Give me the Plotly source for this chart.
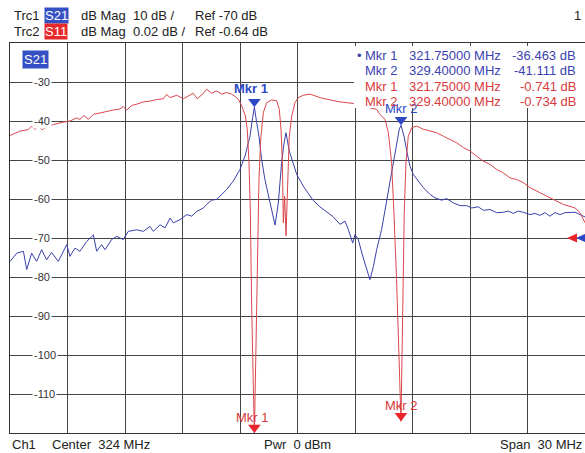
import plotly.graph_objects as go

# ---------------- data ----------------
freq_s21 = [309.00, 309.35, 309.70, 309.87, 310.13, 310.39, 310.65, 310.91, 311.17, 311.52,
            311.96, 312.13, 312.39, 312.65, 313.00, 313.35, 313.52, 313.78, 313.96, 314.30,
            314.57, 314.91, 315.17, 315.61, 315.96, 316.30, 316.48, 316.83, 317.09, 317.35,
            317.52, 317.87, 318.22, 318.48, 318.74, 319.09, 319.26, 319.52, 319.78, 320.04,
            320.30, 320.65, 321.00, 321.26, 321.52, 321.66, 321.75, 321.87, 321.99, 322.13,
            322.30, 322.57, 322.83, 323.00, 323.17, 323.30, 323.40, 323.57, 323.78, 323.96,
            324.30, 324.65, 324.81, 325.17, 325.52, 325.85, 326.22, 326.48, 326.65, 326.88,
            327.00, 327.17, 327.43, 327.61, 327.78, 327.96, 328.13, 328.39, 328.48, 328.65,
            328.83, 329.00, 329.17, 329.31, 329.40, 329.56, 329.70, 329.87, 330.04, 330.30,
            330.57, 330.91, 331.17, 331.52, 331.78, 332.13, 332.48, 332.83, 333.09, 333.43,
            333.70, 334.04, 334.39, 334.74, 335.00, 335.26, 335.52, 335.78, 336.13, 336.39,
            336.65, 336.91, 337.17, 337.43, 337.70, 337.96, 338.22, 338.48, 338.74, 339.00]
s21_db = [-76.0, -73.9, -73.4, -78.1, -73.9, -76.0, -73.0, -75.6, -73.7, -76.0,
          -71.7, -74.7, -72.6, -73.4, -70.9, -69.2, -73.4, -71.7, -73.0, -70.4,
          -69.6, -70.4, -68.3, -67.9, -68.3, -67.0, -68.3, -66.6, -67.4, -64.9,
          -66.1, -65.3, -64.0, -64.4, -63.2, -62.3, -61.4, -60.3, -60.1, -58.8,
          -57.6, -55.4, -52.4, -49.0, -43.9, -39.1, -36.463, -40.4, -43.9, -49.9,
          -55.0, -61.0, -66.7, -61.0, -50.7, -45.6, -43.0, -47.7, -51.0, -53.7,
          -56.7, -59.0, -60.3, -62.0, -63.4, -64.5, -66.5, -65.7, -67.8, -71.3,
          -69.1, -70.4, -75.1, -78.1, -80.7, -77.3, -73.0, -67.8, -65.3, -61.0,
          -55.8, -50.7, -45.6, -42.1, -41.111, -43.9, -47.7, -51.6, -53.7, -55.4,
          -57.1, -58.8, -59.7, -60.3, -59.9, -61.0, -61.7, -61.7, -62.3, -62.0,
          -62.9, -62.7, -63.5, -63.4, -63.1, -63.7, -63.1, -63.4, -64.0, -63.7,
          -64.2, -63.5, -64.4, -63.5, -64.0, -63.5, -63.5, -63.4, -64.0, -64.6]

freq_s11 = [309.00, 309.52, 309.96, 310.13, 310.30, 310.48, 310.65, 310.91, 311.26, 311.78,
            312.13, 312.48, 312.65, 312.86, 313.09, 313.35, 313.70, 314.04, 314.39, 314.74,
            314.91, 315.09, 315.35, 315.61, 315.96, 316.30, 316.65, 317.00, 317.17, 317.35,
            317.70, 318.04, 318.39, 318.56, 318.77, 319.09, 319.26, 319.52, 319.78, 320.04,
            320.30, 320.56, 320.74, 320.91, 321.09, 321.28, 321.38, 321.47, 321.54, 321.61,
            321.75, 321.87, 321.94, 321.99, 322.08, 322.22, 322.39, 322.65, 322.91, 323.05,
            323.14, 323.21, 323.26, 323.33, 323.40, 323.45, 323.50, 323.57, 323.70, 323.87,
            324.04, 324.30, 324.65, 324.91, 325.17, 325.52, 325.87, 326.22, 326.57, 326.91,
            327.17, 327.43, 327.78, 328.13, 328.30, 328.57, 328.74, 328.91, 329.03, 329.17,
            329.40, 329.52, 329.57, 329.66, 329.78, 329.96, 330.22, 330.56, 330.91, 331.26,
            331.61, 331.96, 332.31, 332.65, 333.00, 333.35, 333.69, 334.04, 334.39, 334.74,
            335.09, 335.44, 335.78, 336.13, 336.48, 336.82, 337.17, 337.52, 337.87, 338.22,
            338.48, 338.74, 339.00]
s11_db = [-0.5874, -0.5852, -0.5844, -0.5826, -0.5844, -0.5822, -0.5844, -0.5834, -0.5818, -0.5806,
          -0.5800, -0.5784, -0.5792, -0.5772, -0.5792, -0.5766, -0.5758, -0.5750, -0.5744, -0.5738,
          -0.5726, -0.5744, -0.5720, -0.5714, -0.5702, -0.5698, -0.5690, -0.5686, -0.5664, -0.5680,
          -0.5668, -0.5686, -0.5668, -0.5658, -0.5686, -0.5658, -0.5637, -0.5658, -0.5646, -0.5662,
          -0.5654, -0.5662, -0.5674, -0.5688, -0.5722, -0.5774, -0.5842, -0.6014, -0.6270, -0.6760,
          -0.7410, -0.6760, -0.6356, -0.6100, -0.5894, -0.5756, -0.5706, -0.5692, -0.5696, -0.5740,
          -0.5842, -0.6014, -0.6322, -0.6186, -0.6388, -0.6238, -0.6014, -0.5878, -0.5774, -0.5706,
          -0.5680, -0.5668, -0.5662, -0.5672, -0.5680, -0.5688, -0.5696, -0.5702, -0.5706, -0.5710,
          -0.5706, -0.5722, -0.5732, -0.5740, -0.5766, -0.5792, -0.5860, -0.6014, -0.6270, -0.6614,
          -0.7340, -0.6614, -0.6270, -0.6014, -0.5878, -0.5834, -0.5826, -0.5842, -0.5852, -0.5860,
          -0.5878, -0.5894, -0.5912, -0.5936, -0.5954, -0.5980, -0.6006, -0.6022, -0.6048, -0.6066,
          -0.6092, -0.6100, -0.6116, -0.6142, -0.6160, -0.6176, -0.6194, -0.6212, -0.6228, -0.6238,
          -0.6246, -0.6270, -0.6322]

mkr_names = ["Mkr 1", "Mkr 2"]
mkr_freq = [321.75, 329.40]
mkr_s21 = [-36.463, -41.111]
mkr_s11 = [-0.741, -0.734]

y_ticks = [-30, -40, -50, -60, -70, -80, -90, -100, -110]

center_mhz, span_mhz = 324, 30
s21_ref, s21_scale = -70, 10        # dB, dB/div
s11_ref, s11_scale = -0.64, 0.02    # dB, dB/div
ref_pos = 5                          # divisions from bottom
n_div = 10

# ---------------- layout geometry ----------------
W, H = 585, 453
L, R, T, B = 10, 0, 43, 20
PW, PH = W - L - R, H - T - B

x_range = [center_mhz - span_mhz / 2, center_mhz + span_mhz / 2]
y_range = [s21_ref - ref_pos * s21_scale, s21_ref + (n_div - ref_pos) * s21_scale]
y2_range = [s11_ref - ref_pos * s11_scale, s11_ref + (n_div - ref_pos) * s11_scale]


def px(x):
    return (x - L) / PW


def py(y):
    return (H - B - y) / PH


BLUE_LINE = "#3a40a8"
RED_LINE = "#d9474c"
BLUE_MK = "#2c48c4"
RED_MK = "#e8232a"
BLUE_TXT = "#3b42b0"
RED_TXT = "#d83a3d"
TXT = "#222222"
FONT = "Liberation Sans, Arial, sans-serif"
GRID = "#454545"

fig = go.Figure()

fig.add_trace(go.Scatter(x=freq_s11, y=s11_db, yaxis="y2", mode="lines",
                         line=dict(color=RED_LINE, width=1), hoverinfo="skip"))
fig.add_trace(go.Scatter(x=freq_s21, y=s21_db, mode="lines",
                         line=dict(color=BLUE_LINE, width=1), hoverinfo="skip"))

# marker triangles (tip at the marker value)
tri = 11
r_px = tri / 2
dy1 = r_px * (y_range[1] - y_range[0]) / PH
dy2 = r_px * (y2_range[1] - y2_range[0]) / PH
fig.add_trace(go.Scatter(x=mkr_freq, y=[v + dy1 for v in mkr_s21], mode="markers",
                         marker=dict(symbol="triangle-down", size=tri, color=BLUE_MK),
                         cliponaxis=False, hoverinfo="skip"))
s11_clamped = [min(max(v, y2_range[0]), y2_range[1]) for v in mkr_s11]
fig.add_trace(go.Scatter(x=mkr_freq, y=[v + dy2 for v in s11_clamped], yaxis="y2", mode="markers",
                         marker=dict(symbol="triangle-down", size=tri, color=RED_MK),
                         cliponaxis=False, hoverinfo="skip"))

ann = []
# marker labels
for i, (n, f, v) in enumerate(zip(mkr_names, mkr_freq, mkr_s21)):
    ann.append(dict(x=f, y=v, xref="x", yref="y", text=("<b>%s</b>" % n) if i == 0 else n,
                    showarrow=False, yshift=19 if i == 0 else 17, xshift=-3 if i == 0 else 0,
                    font=dict(family=FONT, size=13, color=BLUE_MK)))
for i, (n, f, v) in enumerate(zip(mkr_names, mkr_freq, s11_clamped)):
    ann.append(dict(x=f, y=v, xref="x", yref="y2", text=n, showarrow=False,
                    yshift=16, xshift=-2 if i == 0 else 0,
                    font=dict(family=FONT, size=13, color=RED_TXT)))

# y tick labels (inside, white background)
for t in y_ticks:
    ann.append(dict(x=px(32), y=t, xref="paper", yref="y", text=str(t), showarrow=False,
                    bgcolor="white", borderpad=1, font=dict(family=FONT, size=11, color="#333333")))

# header
def hdr(x, y, text, color=TXT, bg=None, anchor="left"):
    d = dict(x=px(x), y=py(y), xref="paper", yref="paper", text=text, showarrow=False,
             xanchor=anchor, yanchor="middle", font=dict(family=FONT, size=13, color=color))
    if bg:
        d.update(bgcolor=bg, borderpad=0)
    return d


ann += [hdr(12, 15, "Trc1"), hdr(44, 15, "S21", "white", "#3550c2"), hdr(79, 15, "dB Mag"),
        hdr(131, 15, "%d dB /" % s21_scale), hdr(193, 15, "Ref %d dB" % s21_ref),
        hdr(12, 31, "Trc2"), hdr(44, 31, "S11", "white", "#e62a2a"), hdr(79, 31, "dB Mag"),
        hdr(131, 31, "%.2f dB /" % s11_scale), hdr(193, 31, "Ref %.2f dB" % s11_ref),
        hdr(583, 15, "1", anchor="right")]
ann.append(dict(x=px(22), y=py(60), xref="paper", yref="paper", text="S21", showarrow=False,
                xanchor="left", yanchor="middle", bgcolor="#3550c2", borderpad=1,
                font=dict(family=FONT, size=13, color="white")))

# bottom line
ann += [hdr(10, 445, "Ch1"), hdr(50, 445, "Center&nbsp;&nbsp;%d MHz" % center_mhz),
        hdr(262, 445, "Pwr&nbsp;&nbsp;0 dBm"),
        hdr(584, 445, "Span&nbsp;&nbsp;%d MHz" % span_mhz, anchor="right")]

# marker table
rows = [(mkr_names[0], mkr_freq[0], "%.3f dB" % mkr_s21[0], BLUE_TXT),
        (mkr_names[1], mkr_freq[1], "%.3f dB" % mkr_s21[1], BLUE_TXT),
        (mkr_names[0], mkr_freq[0], "%.3f dB" % mkr_s11[0], RED_TXT),
        (mkr_names[1], mkr_freq[1], "%.3f dB" % mkr_s11[1], RED_TXT)]
row_y = [55, 71, 86, 101]
for (n, f, v, c), yy in zip(rows, row_y):
    ann.append(hdr(363, yy, n, c))
    ann.append(hdr(407, yy, "%.5f MHz" % f, c))
    ann.append(hdr(578, yy, v, c, anchor="right"))
ann.append(hdr(355, 55, "•", BLUE_TXT))

shapes = [dict(type="rect", xref="paper", yref="paper", x0=px(354), x1=px(590),
               y0=py(108), y1=py(46), fillcolor="white", line=dict(width=0), layer="above")]
# reference level arrows at right edge
hh = 4.5 * (y_range[1] - y_range[0]) / PH
for x_tip, col in [(567, RED_MK), (576, BLUE_MK)]:
    shapes.append(dict(type="path", xref="paper", yref="y",
                       path="M %f,%f L %f,%f L %f,%f Z" % (px(x_tip), s21_ref, px(x_tip + 10), s21_ref + hh,
                                                          px(x_tip + 10), s21_ref - hh),
                       fillcolor=col, line=dict(width=0), layer="above"))

fig.update_layout(
    width=W, height=H, margin=dict(l=L, r=R, t=T, b=B),
    paper_bgcolor="white", plot_bgcolor="white", showlegend=False,
    xaxis=dict(range=x_range, dtick=span_mhz / n_div, tick0=x_range[0], showgrid=True,
               gridcolor=GRID, gridwidth=1, zeroline=False, showticklabels=False, ticks="",
               showline=True, mirror=True, linecolor="#333333", linewidth=1, fixedrange=True),
    yaxis=dict(range=y_range, dtick=s21_scale, tick0=y_range[0], showgrid=True,
               gridcolor=GRID, gridwidth=1, zeroline=False, showticklabels=False, ticks="",
               showline=True, mirror=True, linecolor="#333333", linewidth=1, fixedrange=True),
    yaxis2=dict(range=y2_range, overlaying="y", anchor="x", visible=False, showgrid=False,
                fixedrange=True),
    annotations=ann, shapes=shapes,
)

fig.write_html("out.html")
